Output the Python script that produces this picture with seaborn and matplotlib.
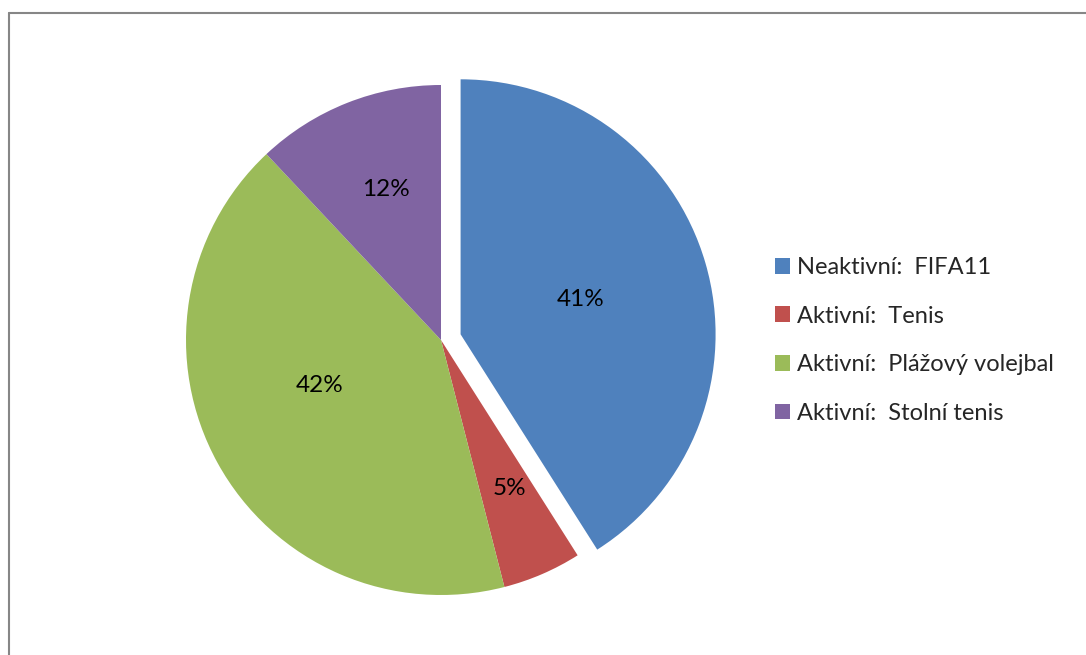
import matplotlib
matplotlib.use("Agg")
import matplotlib.pyplot as plt
import seaborn as sns
import numpy as np
from matplotlib.lines import Line2D

categories = ["Neaktivní:  FIFA11", "Aktivní:  Tenis", "Aktivní:  Plážový volejbal", "Aktivní:  Stolní tenis"]
values = [41, 5, 42, 12]
colors = ["#4F81BD", "#C0504D", "#9BBB59", "#8064A2"]
explode = [0.08, 0, 0, 0]
label_dist = [0.49, 0.64, 0.51, 0.63]
label_ang_off = [0, 1.4, -8.4, -1.5]

sns.set_theme(style="white")
plt.rcParams['font.family'] = ['Lato', 'DejaVu Sans']

W, H = 1086, 655
fig = plt.figure(figsize=(W / 100, H / 100), dpi=100)
fig.patch.set_facecolor("white")

cx, cy, R = 441, 340, 255
span = 1.2 * R
ax = fig.add_axes([(cx - span) / W, (H - cy - span) / H, 2 * span / W, 2 * span / H])
wedges, texts, autotexts = ax.pie(values, colors=sns.color_palette(colors), explode=explode,
                                  startangle=90, counterclock=False,
                                  autopct=lambda p: f"{p:.0f}%", pctdistance=0.55,
                                  wedgeprops=dict(linewidth=0, edgecolor="none"),
                                  textprops=dict(fontsize=17.5, color="black"))
for w, t, d, o in zip(wedges, autotexts, label_dist, label_ang_off):
    ang = np.deg2rad((w.theta1 + w.theta2) / 2 + o)
    c = w.center
    t.set_position((c[0] + d * np.cos(ang), c[1] + d * np.sin(ang)))
ax.set_xlim(-1.2, 1.2)
ax.set_ylim(-1.2, 1.2)
ax.set_aspect("equal")
ax.axis("off")

leg = fig.legend(wedges, categories, loc="upper left", bbox_to_anchor=(775 / W, 1 - 257 / H),
                 frameon=False, fontsize=17, handlelength=0.65, handleheight=0.65,
                 handletextpad=0.3, labelspacing=1.17, borderaxespad=0, borderpad=0)

# chart area border (left & top visible)
fig.add_artist(Line2D([8.5 / W, 8.5 / W], [0, 1 - 12.5 / H], transform=fig.transFigure,
                      color="#868686", lw=1.5))
fig.add_artist(Line2D([8.5 / W, 1], [1 - 12.5 / H, 1 - 12.5 / H], transform=fig.transFigure,
                      color="#868686", lw=1.5))

fig.savefig("out.png", dpi=100, facecolor="white")
